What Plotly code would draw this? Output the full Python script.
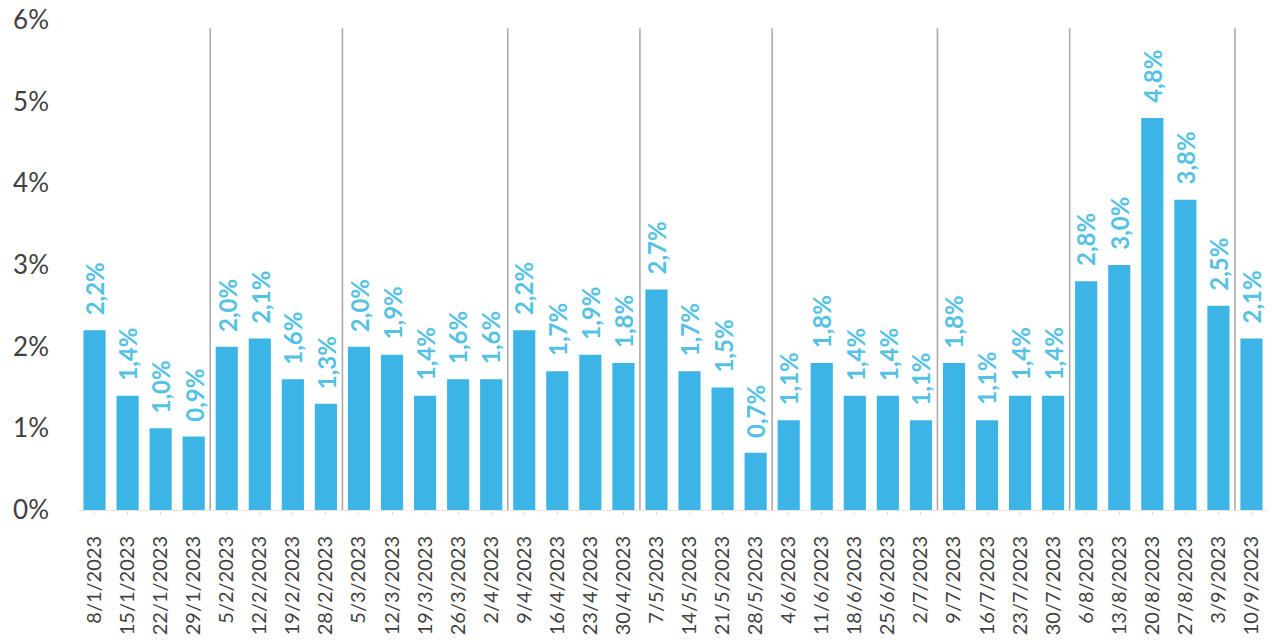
import plotly.graph_objects as go

# Weekly dates (x categories) and weekly rates in percent
dates = [
    "8/1/2023", "15/1/2023", "22/1/2023", "29/1/2023",
    "5/2/2023", "12/2/2023", "19/2/2023", "28/2/2023",
    "5/3/2023", "12/3/2023", "19/3/2023", "26/3/2023", "2/4/2023",
    "9/4/2023", "16/4/2023", "23/4/2023", "30/4/2023",
    "7/5/2023", "14/5/2023", "21/5/2023", "28/5/2023",
    "4/6/2023", "11/6/2023", "18/6/2023", "25/6/2023", "2/7/2023",
    "9/7/2023", "16/7/2023", "23/7/2023", "30/7/2023",
    "6/8/2023", "13/8/2023", "20/8/2023", "27/8/2023", "3/9/2023",
    "10/9/2023",
]
rates = [
    2.2, 1.4, 1.0, 0.9,
    2.0, 2.1, 1.6, 1.3,
    2.0, 1.9, 1.4, 1.6, 1.6,
    2.2, 1.7, 1.9, 1.8,
    2.7, 1.7, 1.5, 0.7,
    1.1, 1.8, 1.4, 1.4, 1.1,
    1.8, 1.1, 1.4, 1.4,
    2.8, 3.0, 4.8, 3.8, 2.5,
    2.1,
]
# Number of weeks in each monthly block, separated by vertical rules
block_sizes = [4, 4, 5, 4, 4, 5, 4, 5, 1]
y_ticks = [0, 1, 2, 3, 4, 5, 6]
y_tick_text = [f"{v}%" for v in y_ticks]

labels = [f"<b>{v:.1f}%</b>".replace(".", ",") for v in rates]

BAR = "#3cb4e6"
LABEL = "#55c2e3"
FONT = "Lato, 'Open Sans', sans-serif"

xs = list(range(len(dates)))

fig = go.Figure(go.Bar(
    x=xs,
    y=rates,
    marker=dict(color=BAR, line=dict(width=0)),
    width=0.67,
    hoverinfo="skip",
))

# Rotated value labels sitting above each bar
annotations = [
    dict(
        x=x, y=v, xref="x", yref="y",
        text=t, textangle=-90, showarrow=False,
        xanchor="center", yanchor="bottom", yshift=13,
        font=dict(color=LABEL, size=24, family=FONT),
    )
    for x, v, t in zip(xs, rates, labels)
]

# Vertical separators between monthly blocks
shapes = []
pos = 0
for n in block_sizes[:-1]:
    pos += n
    shapes.append(dict(
        type="line", xref="x", yref="y",
        x0=pos - 0.5, x1=pos - 0.5, y0=0, y1=5.9,
        line=dict(color="#a6a6a6", width=1.5),
    ))

fig.update_layout(
    width=1275, height=640,
    margin=dict(l=78, r=7, t=20, b=130),
    plot_bgcolor="white", paper_bgcolor="white",
    showlegend=False,
    shapes=shapes,
    annotations=annotations,
    font=dict(family=FONT, color="#404040"),
    xaxis=dict(
        tickmode="array",
        tickvals=xs,
        ticktext=dates,
        tickangle=-90,
        tickfont=dict(size=20, color="#404040", family=FONT),
        range=[-0.5, len(dates) - 0.5],
        showgrid=False,
        showline=True, linecolor="#eee6de", linewidth=1,
        ticks="outside", ticklen=4, tickcolor="#f2d9c4", tickson="boundaries",
        ticklabelstandoff=13,
        zeroline=False,
        automargin=False,
    ),
    yaxis=dict(
        range=[0, 6],
        tickmode="array",
        tickvals=y_ticks,
        ticktext=y_tick_text,
        tickfont=dict(size=26, color="#404040", family=FONT),
        showgrid=False, zeroline=False, showline=False,
        ticklabelstandoff=28,
        automargin=False,
    ),
)

fig.write_html("out.html")
